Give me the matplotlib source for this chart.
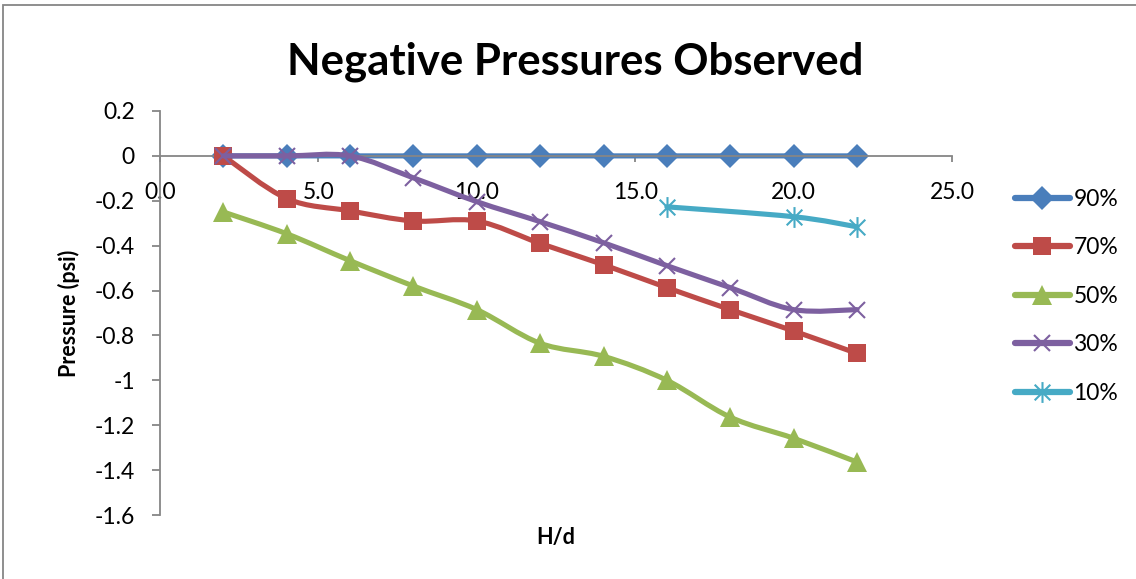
import numpy as np
import matplotlib
matplotlib.use('Agg')
import matplotlib.pyplot as plt
from matplotlib.path import Path
from matplotlib.patches import PathPatch, Rectangle
from matplotlib.lines import Line2D

plt.rcParams['font.family'] = ['Lato', 'DejaVu Sans']

# H/d positions
hd = [2, 4, 6, 8, 10, 12, 14, 16, 18, 20, 22]
hd_10 = [16, 20, 22]

p90 = [0, 0, 0, 0, 0, 0, 0, 0, 0, 0, 0]
p70 = [0, -0.19, -0.245, -0.29, -0.29, -0.39, -0.485, -0.587, -0.685, -0.78, -0.88]
p50 = [-0.25, -0.347, -0.467, -0.58, -0.685, -0.835, -0.893, -1.0, -1.164, -1.258, -1.364]
p30 = [0, 0, 0, -0.098, -0.204, -0.293, -0.387, -0.489, -0.587, -0.685, -0.685]
p10 = [-0.227, -0.271, -0.316]

labels = ['90%', '70%', '50%', '30%', '10%']
yticks = [0.2, 0, -0.2, -0.4, -0.6, -0.8, -1, -1.2, -1.4, -1.6]
xticks = [0, 5, 10, 15, 20, 25]

colors = ['#4A7EBB', '#BE4B48', '#98B954', '#7D60A0', '#46AAC5']

# excel style star marker: vertical bar + X
star = Path([(0, -1), (0, 1), (-0.75, -0.75), (0.75, 0.75), (-0.75, 0.75), (0.75, -0.75)],
            [Path.MOVETO, Path.LINETO, Path.MOVETO, Path.LINETO, Path.MOVETO, Path.LINETO])

styles = [dict(marker='D', ms=12, mew=0),
          dict(marker='s', ms=13.5, mew=0),
          dict(marker='^', ms=14, mew=0),
          dict(marker='x', ms=12, mew=1.5),
          dict(marker=star, ms=15, mew=1.5)]


def smooth_path(x, y):
    # bezier curve through the points, like excel's smoothed line
    pts = np.column_stack([x, y]).astype(float)
    n = len(pts)
    verts = [pts[0]]
    codes = [Path.MOVETO]
    for i in range(n - 1):
        p0 = pts[i - 1] if i > 0 else pts[i]
        p1 = pts[i]
        p2 = pts[i + 1]
        p3 = pts[i + 2] if i + 2 < n else pts[i + 1]
        c1 = p1 + (p2 - p0) / 6.0
        c2 = p2 - (p3 - p1) / 6.0
        verts += [c1, c2, p2]
        codes += [Path.CURVE4] * 3
    return Path(verts, codes)


fig = plt.figure(figsize=(11.36, 5.79), dpi=100)
ax = fig.add_axes([160 / 1136, 64 / 579, 792 / 1136, 404 / 579])

series = [(hd, p90), (hd, p70), (hd, p50), (hd, p30), (hd_10, p10)]
handles = []
for k, (xs, ys) in enumerate(series):
    c = colors[k]
    ax.add_patch(PathPatch(smooth_path(xs, ys), fill=False, edgecolor=c, lw=3.7,
                           capstyle='round', joinstyle='round', zorder=2 + k))
    mk = styles[k]
    ax.plot(xs, ys, linestyle='none', color=c, markerfacecolor=c, markeredgecolor=c,
            zorder=2.5 + k, clip_on=False, **mk)
    handles.append(Line2D([], [], color=c, lw=4.5, solid_capstyle='round',
                          markerfacecolor=c, markeredgecolor=c, **mk))

ax.set_xlim(0, 25)
ax.set_ylim(-1.6, 0.2)
ax.set_xticks(xticks)
ax.set_xticklabels(['%.1f' % v for v in xticks])
ax.set_yticks(yticks)
ax.set_yticklabels(['%g' % v for v in yticks])

ax.spines['top'].set_visible(False)
ax.spines['right'].set_visible(False)
ax.spines['bottom'].set_position(('data', 0))
for s in ['left', 'bottom']:
    ax.spines[s].set_color('#868686')
    ax.spines[s].set_linewidth(1.3)
ax.tick_params(axis='both', colors='#868686', labelcolor='black', labelsize=16.5,
               width=1.3, direction='out')
ax.tick_params(axis='x', length=4, pad=15)
ax.tick_params(axis='y', length=6, pad=12)

ax.set_ylabel('Pressure (psi)', fontsize=15.5, fontweight='bold')
ax.yaxis.set_label_coords(-0.101, 0.5)
ax.set_xlabel('H/d', fontsize=15.5, fontweight='bold')
ax.xaxis.set_label_coords(0.5, -0.03)
ax.xaxis.label.set_verticalalignment('top')

fig.text(0.506, 1 - 62 / 579, 'Negative Pressures Observed', fontsize=31.5,
         fontweight='bold', ha='center', va='center')

ax.legend(handles, labels, loc='center left', bbox_to_anchor=(1.0795, 0.541),
          frameon=False, fontsize=16.5, handlelength=2.4, labelspacing=1.2,
          handletextpad=0.15, borderaxespad=0, borderpad=0)

fig.add_artist(Rectangle((3 / 1136, -0.1), 1.2, 1.1 - 5 / 579, transform=fig.transFigure,
                         fill=False, edgecolor='#868686', lw=1.3))

fig.savefig('out.png', dpi=100)
